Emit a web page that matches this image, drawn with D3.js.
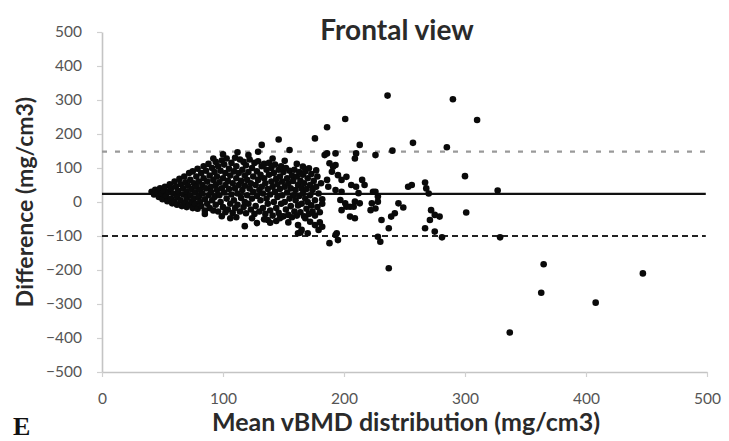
<!DOCTYPE html>
<html>
<head>
<meta charset="utf-8">
<script src="https://cdn.jsdelivr.net/npm/d3@7"></script>
<style>
  html, body { margin: 0; padding: 0; background: #fff; }
  svg { display: block; }
</style>
</head>
<body>
<svg id="chart"></svg>
<script>
const chartTitle = "Frontal view";
const xLabel = "Mean vBMD distribution (mg/cm3)";
const yLabel = "Difference (mg/cm3)";
const panelLetter = "E";

const xTicks = [0, 100, 200, 300, 400, 500];
const yTicks = [500, 400, 300, 200, 100, 0, -100, -200, -300, -400, -500];

// mean difference and limits of agreement
const meanDiff = 24;
const upperLimit = 148;
const lowerLimit = -100;

// dense part of the cloud, [mean, difference]
const clusterPoints = [
  [41,30],[43,22],[44,36],[46,28],[47,15],[48,40],[49,24],[50,8],[51,33],[52,45],
  [53,18],[54,2],[55,30],[56,52],[57,10],[57,40],[58,-4],[59,25],[60,60],[60,0],[61,45],[62,15],[62,-8],
  [63,32],[64,68],[65,5],[65,52],[66,-12],[67,22],[67,40],[68,75],[69,-2],[69,58],[70,12],[70,30],[70,-15],
  [71,48],[72,85],[72,-8],[73,20],[73,65],[74,2],[74,38],[75,-18],[75,90],[76,55],[76,10],[77,28],[77,-5],[78,75],[78,45],
  [79,98],[79,-20],[80,15],[80,60],[81,35],[81,0],[82,85],[82,-12],[83,50],[83,25],[84,105],[84,70],[85,8],[85,-25],[86,40],[86,92],
  [87,-5],[87,60],[88,20],[88,112],[89,78],[89,-18],[90,45],[90,30],[91,100],[91,5],[92,65],[92,-25],[93,88],[93,15],[94,118],[94,50],[94,-8],
  [95,35],[95,75],[96,-28],[96,105],[97,20],[97,58],[98,0],[98,92],[99,122],[99,40],[100,-15],[100,70],[101,28],[101,110],[102,-30],[102,50],[102,85],
  [103,10],[103,128],[104,62],[104,-22],[105,38],[105,98],[106,-5],[106,78],[107,115],[107,22],[108,-32],[108,55],[109,90],[109,5],[110,130],[110,40],[110,-18],
  [111,70],[111,105],[112,25],[112,-8],[113,85],[113,50],[114,125],[114,-28],[115,12],[115,62],[116,95],[116,35],[117,-15],[117,118],[118,78],[118,0],[118,48],
  [119,-33],[119,108],[120,20],[120,65],[121,88],[121,-5],[122,40],[122,125],[123,55],[123,-22],[124,100],[124,10],[125,75],[125,30],[126,-35],[126,115],
  [127,50],[127,-12],[128,90],[128,18],[129,65],[129,120],[130,35],[130,-28],[131,5],[131,80],[132,105],[132,45],[133,-18],[133,25],[134,70],[134,112],
  [135,-35],[135,55],[136,95],[136,10],[137,38],[137,-5],[138,80],[138,115],[139,22],[139,-25],[140,60],[140,100],[141,45],[141,-40],[142,0],[142,85],
  [143,30],[143,110],[144,-18],[144,68],[145,52],[145,15],[146,95],[146,-32],[147,75],[147,38],[148,-5],[148,105],[149,20],[149,60],[150,-42],[150,88],
  [151,45],[151,0],[152,100],[152,-22],[153,70],[153,28],[154,-38],[154,55],[155,10],[155,92],[156,-12],[156,40],[157,78],[157,-45],[158,20],[158,62],
  [159,-28],[159,95],[160,35],[160,5],[161,75],[161,-40],[162,50],[162,-10],[163,88],[163,18],[164,-30],[164,62],[165,40],[165,-5],[166,80],[166,25],
  [167,-42],[167,55],[168,10],[168,90],[169,-20],[169,38],[170,70],[170,0],[171,-35],[172,50],[172,20],[173,82],[173,-10],[174,-28],[174,35],
  [175,62],[176,5],[176,-40],[177,45],[178,-15],[178,75],[179,25],[180,-30],[181,55],[182,8],[182,-5],
  [92,128],[100,140],[112,146],[121,138],[141,128],[151,121],[161,112],[166,104],[171,99],[177,93],
  [85,-35],[99,-42],[111,-45],[124,-48],[134,-51],[144,-56],[154,-60],[128,-62]
];

// sparser points around and beyond the cloud
const scatterPoints = [
  [129,148],[132,168],[146,184],[155,153],[186,143],[193,143],[213,168],[210,143],[209,128],[226,138],
  [176,187],[186,220],[201,244],[236,313],[290,302],[310,241],[257,174],[240,151],[285,161],[300,76],
  [327,34],[301,-31],[281,-104],[329,-104],[237,-195],[365,-183],[363,-267],[408,-296],[447,-210],[337,-384],
  [193,109],[190,89],[195,79],[198,65],[186,65],[187,45],[193,35],[198,30],[215,65],[217,50],
  [212,26],[209,1],[205,-14],[224,30],[228,16],[223,-4],[222,-24],[197,6],[201,-4],[202,-14],
  [198,-24],[205,-43],[209,-48],[137,-53],[168,-48],[172,-58],[176,-68],[179,-82],[182,-73],[162,-68],
  [165,-82],[193,-97],[195,-112],[147,-48],[253,45],[256,50],[267,57],[268,40],[270,25],[226,30],
  [228,1],[226,-19],[245,-4],[249,-16],[242,-33],[239,-43],[231,-53],[237,-77],[228,-102],[230,-117],
  [272,-24],[275,-38],[279,-43],[271,-53],[267,-77],[275,-87],[106,-48],[118,-71],[139,-61],[149,-43],
  [162,-92],[188,-121],[194,-92],[180,-60],[170,-92],[164,-90],[184,138],[188,114],[191,104],[202,74],
  [206,50],[210,45],[208,-14],[213,-4]
];

function drawChart() {
  const width = 729,
    height = 441;

  const svg = d3.select("#chart").attr("width", width).attr("height", height);

  const x = d3.scaleLinear().domain([0, 500]).range([102, 707]);
  const y = d3.scaleLinear().domain([-500, 500]).range([372, 32]);

  const textFont = "Lato, 'Open Sans', sans-serif";

  // axes (light grey lines, ticks outside)
  const yAxis = svg
    .append("g")
    .attr("transform", `translate(${x(0)},0)`)
    .call(d3.axisLeft(y).tickValues(yTicks).tickSize(5).tickPadding(15).tickSizeOuter(0));

  const xAxis = svg
    .append("g")
    .attr("transform", `translate(0,${y(-500)})`)
    .call(d3.axisBottom(x).tickValues(xTicks).tickSize(5).tickPadding(16).tickSizeOuter(0));

  [xAxis, yAxis].forEach((g) => {
    g.select(".domain").attr("stroke", "#c4c4c4").attr("stroke-width", 1.6);
    g.selectAll(".tick line").attr("stroke", "#d0d0d0").attr("stroke-width", 1.2);
    g.selectAll(".tick text")
      .attr("fill", "#555")
      .style("font-family", textFont)
      .style("font-size", "15.5px");
  });

  // reference lines
  const refLines = [
    { value: upperLimit, color: "#9a9a9a", dash: "5,8" },
    { value: meanDiff, color: "#111", dash: null },
    { value: lowerLimit, color: "#222", dash: "6,4" },
  ];

  svg
    .append("g")
    .selectAll("line")
    .data(refLines)
    .join("line")
    .attr("x1", x(0))
    .attr("x2", x(499))
    .attr("y1", (d) => y(d.value))
    .attr("y2", (d) => y(d.value))
    .attr("stroke", (d) => d.color)
    .attr("stroke-width", 2.2)
    .attr("stroke-dasharray", (d) => d.dash);

  // points
  svg
    .append("g")
    .selectAll("circle")
    .data(clusterPoints.concat(scatterPoints))
    .join("circle")
    .attr("cx", (d) => x(d[0]))
    .attr("cy", (d) => y(d[1]))
    .attr("r", 3.3)
    .attr("fill", "#0a0a0a");

  // texts
  svg
    .append("text")
    .attr("x", 397)
    .attr("y", 40)
    .attr("text-anchor", "middle")
    .attr("fill", "#2a2a2a")
    .style("font-family", textFont)
    .style("font-weight", "bold")
    .style("font-size", "28px")
    .text(chartTitle);

  svg
    .append("text")
    .attr("transform", `translate(33,${y(0)}) rotate(-90)`)
    .attr("text-anchor", "middle")
    .attr("fill", "#2a2a2a")
    .style("font-family", textFont)
    .style("font-weight", "bold")
    .style("font-size", "23px")
    .text(yLabel);

  svg
    .append("text")
    .attr("x", 406)
    .attr("y", 431)
    .attr("text-anchor", "middle")
    .attr("fill", "#2a2a2a")
    .style("font-family", textFont)
    .style("font-weight", "bold")
    .style("font-size", "25px")
    .text(xLabel);

  svg
    .append("text")
    .attr("x", 13)
    .attr("y", 435)
    .attr("fill", "#111")
    .style("font-family", "'Liberation Serif', 'DejaVu Serif', serif")
    .style("font-weight", "bold")
    .style("font-size", "26px")
    .text(panelLetter);
}

document.addEventListener("DOMContentLoaded", () => {
  drawChart();
});
</script>
</body>
</html>
